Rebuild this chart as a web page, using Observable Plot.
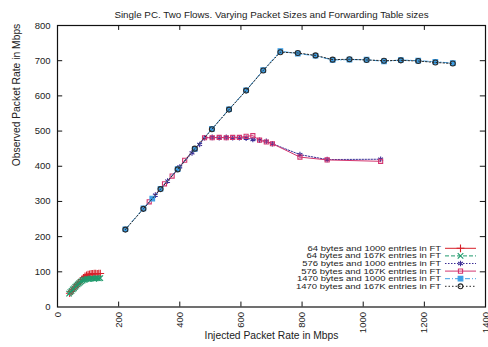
<!DOCTYPE html>
<html><head><meta charset="utf-8">
<script src="https://cdn.jsdelivr.net/npm/d3@7"></script>
<script src="https://cdn.jsdelivr.net/npm/@observablehq/plot@0.6"></script>
<style>body{margin:0;background:#fff}</style>
</head><body><div id="chart"></div>
<script>
const title = "Single PC. Two Flows. Varying Packet Sizes and Forwarding Table sizes";
const xLabel = "Injected Packet Rate in Mbps";
const yLabel = "Observed Packet Rate in Mbps";
const xTicks = [0,200,400,600,800,1000,1200,1400];
const yTicks = [0,100,200,300,400,500,600,700,800];

const seriesNames = [
  "64 bytes and 1000 entries in FT",
  "64 bytes and 167K entries in FT",
  "576 bytes and 1000 entries in FT",
  "576 bytes and 167K entries in FT",
  "1470 bytes and 1000 entries in FT",
  "1470 bytes and 167K entries in FT"
];

const s64_1000_x = [40,45,50,55,60,65,70,75,80,85,90,95,100,105,110,115,120,125,130,135,140];
const s64_1000_y = [39,44,49,54,59,64,69,73,78,83,87,90,92,93,94,94,95,95,94,95,95];

const s64_167k_x = [38,42,46,50,54,58,62,66,70,74,78,82,86,90,95,100,105,110,115,120,125,130,135,140];
const s64_167k_y = [38,42,46,50,53,57,61,64,67,70,73,75,77,78,79,80,80,81,81,80,81,82,81,82];

const s576_1000_x = [280,320,360,400,440,465,481,506,529,552,573,595,617,639,661,683,703,793,882,1057];
const s576_1000_y = [278,318,358,398,438,462,481,482,481,482,481,481,480,476,474,471,464,433,419,420];

const s576_167k_x = [300,350,375,416,450,481,506,529,552,573,595,617,639,661,683,703,793,882,1057];
const s576_167k_y = [299,350,372,417,450,481,481,482,481,482,482,485,487,474,469,464,426,418,414];

const s1470_1000_x = [222,281,310,337,393,449,505,561,617,673,729,786,844,900,955,1011,1068,1123,1180,1236,1293];
const s1470_1000_y = [221,280,308,336,392,449,506,562,616,673,727,720,714,702,703,703,698,702,700,697,693];

const s1470_167k_x = [222,281,337,393,449,505,561,617,673,729,786,844,900,955,1011,1068,1123,1180,1236,1293];
const s1470_167k_y = [220,279,335,391,450,505,561,615,672,724,722,715,703,704,702,700,701,699,695,692];

const styles = [
  {color:"#d7202a", dash:null,        symbol:"plus",     fill:"none"},
  {color:"#1f9a6c", dash:"4,2",       symbol:"times",    fill:"none"},
  {color:"#3a2c95", dash:"1.5,1.5",   symbol:"asterisk", fill:"none"},
  {color:"#d3356f", dash:null,        symbol:"square2",  fill:"none"},
  {color:"#3d9fe6", dash:"5,2,1,2",   symbol:"square",   fill:"#3d9fe6"},
  {color:"#2a2a2a", dash:"1.5,2",     symbol:"circle",   fill:"none"}
];

const xs = [s64_1000_x, s64_167k_x, s576_1000_x, s576_167k_x, s1470_1000_x, s1470_167k_x];
const ys = [s64_1000_y, s64_167k_y, s576_1000_y, s576_167k_y, s1470_1000_y, s1470_167k_y];
const tables = xs.map((arr, i) => arr.map((x, j) => ({x, y: ys[i][j], s: seriesNames[i]})));

const dataMarks = [];
tables.forEach((t, i) => {
  const st = styles[i];
  dataMarks.push(Plot.line(t, {x:"x", y:"y", stroke:st.color, strokeWidth:1, strokeDasharray:st.dash}));
  dataMarks.push(Plot.dot(t, {x:"x", y:"y", symbol:()=>st.symbol, r: st.symbol==="circle"?2.5:2.6,
    stroke:st.color, fill:st.fill, strokeWidth:1.1}));
});

const FONT = "'Liberation Sans', Arial, sans-serif";
const plot = Plot.plot({
  width:488, height:347,
  marginLeft:57, marginRight:3, marginTop:25, marginBottom:40.5,
  x:{domain:[0,1400]}, y:{domain:[0,800]},
  symbol:{type:"identity"},
  style:{fontFamily:FONT, fontSize:"9.5px", background:"#fff", color:"#222"},
  marks:[
    Plot.axisX(xTicks, {tickSize:0, tickRotate:-90, tickPadding:5, label:null, fontSize:9.5, tickFormat:d=>String(d)}),
    Plot.axisY(yTicks, {tickSize:0, tickPadding:7, label:null, fontSize:9.5, tickFormat:d=>String(d)}),
    Plot.ruleX(xTicks.slice(1,-1), {y1:0, y2:14, stroke:"#111"}),
    Plot.ruleX(xTicks.slice(1,-1), {y1:800, y2:786, stroke:"#111"}),
    Plot.ruleY(yTicks.slice(1,-1), {x1:0, x2:17, stroke:"#111"}),
    Plot.ruleY(yTicks.slice(1,-1), {x1:1400, x2:1383, stroke:"#111"}),
    ...dataMarks,
    Plot.frame({stroke:"#111", strokeWidth:1.2}),
    Plot.text([title], {frameAnchor:"top", dy:-14.5, fontSize:9.8, fill:"#222"}),
    Plot.text([xLabel], {frameAnchor:"bottom", dy:31.5, fontSize:10.3, fill:"#222"}),
    Plot.text([yLabel], {frameAnchor:"left", dx:-41, rotate:-90, fontSize:10.3, fill:"#222"})
  ]
});
document.getElementById("chart").appendChild(plot);

// legend
const svg = d3.select(plot);
const lg = svg.append("g").attr("font-family",FONT).attr("font-size",7.4);
const symMap = {plus:d3.symbolPlus, times:d3.symbolTimes, asterisk:d3.symbolAsterisk, square2:d3.symbolSquare2, square:d3.symbolSquare, circle:d3.symbolCircle};
const texts = [];
seriesNames.forEach((name, i) => {
  const st = styles[i];
  const yy = 248.3 + i*7.6;
  texts.push(lg.append("text").attr("x",441).attr("y",yy).attr("dy","0.35em").attr("text-anchor","end").attr("fill","#222").text(name));
  lg.append("line").attr("x1",445).attr("x2",476).attr("y1",yy).attr("y2",yy)
    .attr("stroke",st.color).attr("stroke-width",1).attr("stroke-dasharray",st.dash);
  lg.append("path").attr("transform",`translate(460.5,${yy})`)
    .attr("d", d3.symbol(symMap[st.symbol], st.symbol==="circle"?18:22)())
    .attr("stroke",st.color).attr("fill",st.fill).attr("stroke-width",1.1);
});
// widen legend glyphs to match the reference's wide lettering
const longest = Math.max(...texts.map(t => t.node().getComputedTextLength()));
const k = 145 / longest;
texts.forEach(t => {
  const L = t.node().getComputedTextLength();
  t.attr("textLength", L*k).attr("lengthAdjust","spacingAndGlyphs");
});
</script></body></html>
